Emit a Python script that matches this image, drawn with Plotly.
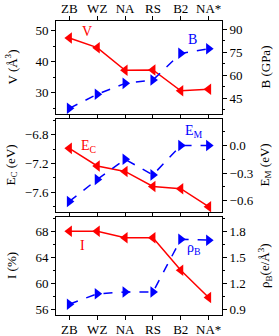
import plotly.graph_objects as go

phases = ["ZB", "WZ", "NA", "RS", "B2", "NA*"]
V = [47.6, 44.5, 37.2, 37.3, 30.6, 31.1]
B = [38.5, 47.6, 54.7, 56.9, 74.2, 77.2]
EC = [-6.99, -7.235, -7.31, -7.52, -7.55, -7.80]
EM = [-0.61, -0.37, -0.15, -0.32, 0.0, 0.0]
I = [68.0, 68.0, 67.0, 67.0, 62.0, 57.8]
RHO = [0.96, 1.08, 1.10, 1.10, 1.71, 1.70]

RED = "#ff0000"
BLUE = "#0000ff"
FONT = "Liberation Serif"

fig = go.Figure()

def red(x, y, xa, ya):
    fig.add_trace(go.Scatter(x=x, y=y, xaxis=xa, yaxis=ya, mode="lines+markers",
                             line=dict(color=RED, width=1.5),
                             marker=dict(symbol="triangle-left", size=10, color=RED),
                             showlegend=False))

def blue(x, y, xa, ya):
    fig.add_trace(go.Scatter(x=x, y=y, xaxis=xa, yaxis=ya, mode="lines+markers",
                             line=dict(color=BLUE, width=1.5, dash="dash"),
                             marker=dict(symbol="triangle-right", size=10, color=BLUE),
                             showlegend=False))

idx = list(range(len(phases)))
red(idx, V, "x", "y")
blue(idx, B, "x", "y2")
red(idx, EC, "x2", "y3")
blue(idx, EM, "x2", "y4")
red(idx, I, "x3", "y5")
blue(idx, RHO, "x3", "y6")

W, H = 279, 336
L, R = 56, 57
top, bot = 21, 21
ph = H - top - bot
pw = W - L - R
def dom(y0, y1):
    return [(H - bot - y1) / ph, (H - bot - y0) / ph]

d1 = dom(21, 114)
d2 = dom(119, 212)
d3 = dom(217, 315)

tickfont = dict(family=FONT, size=13, color="black")
titlefont = dict(family=FONT, size=13, color="black")

def xax(anchor, side, labels):
    return dict(anchor=anchor, side=side, range=[-0.48, 5.48],
                tickmode="array", tickvals=idx, ticktext=phases,
                showticklabels=labels, ticks="outside", ticklen=4, tickwidth=1,
                tickcolor="black", showline=True, linecolor="black", linewidth=1,
                mirror="allticks", showgrid=False, zeroline=False, tickfont=tickfont,
                ticklabelstandoff=-2, automargin=False)

def yax(domain, rng, dtick, minor, side="left", overlay=None, anchor=None):
    d = dict(domain=domain, range=rng, dtick=dtick, tick0=0, side=side,
             ticks="outside", ticklen=4, tickwidth=1, tickcolor="black",
             minor=dict(ticks="outside", ticklen=2, dtick=minor, tick0=0, tickcolor="black"),
             showline=True, linecolor="black", linewidth=1, showgrid=False,
             zeroline=False, tickfont=tickfont, automargin=False)
    if overlay:
        d["overlaying"] = overlay
    if anchor:
        d["anchor"] = anchor
    return d

fig.update_layout(
    width=W, height=H,
    margin=dict(l=L, r=R, t=top, b=bot, autoexpand=False),
    paper_bgcolor="white", plot_bgcolor="white",
    font=dict(family=FONT, color="black"),
    xaxis=xax("y", "top", True),
    xaxis2=xax("y3", "bottom", False),
    xaxis3=xax("y5", "bottom", True),
    yaxis=yax(d1, [23.1, 53.1], 10, 5, anchor="x"),
    yaxis2=yax(d1, [34.8, 95.2], 15, 7.5, side="right", overlay="y", anchor="x"),
    yaxis3=yax(d2, [-7.874, -6.582], 0.4, 0.2, anchor="x2"),
    yaxis4=yax(d2, [-0.725, 0.29], 0.3, 0.15, side="right", overlay="y3", anchor="x2"),
    yaxis5=yax(d3, [55.1, 70.2], 4, 2, anchor="x3"),
    yaxis6=yax(d3, [0.835, 1.968], 0.3, 0.15, side="right", overlay="y5", anchor="x3"),
)
fig.layout.yaxis3.tickformat = ".1f"
fig.layout.yaxis4.tickformat = ".1f"
fig.layout.yaxis6.tickformat = ".1f"

annfont_r = dict(family=FONT, size=14, color=RED)
annfont_b = dict(family=FONT, size=14, color=BLUE)
anns = [
    dict(text="V", x=0.63, y=49.6, xref="x", yref="y", font=annfont_r),
    dict(text="B", x=4.43, y=83.5, xref="x", yref="y2", font=annfont_b),
    dict(text="E<sub>C</sub>", x=0.67, y=-6.97, xref="x2", yref="y3", font=annfont_r),
    dict(text="E<sub>M</sub>", x=4.47, y=0.158, xref="x2", yref="y4", font=annfont_b),
    dict(text="I", x=0.455, y=65.8, xref="x3", yref="y5", font=annfont_r),
    dict(text="ρ<sub>B</sub>", x=4.47, y=1.60, xref="x3", yref="y6", font=annfont_b),
]
for a in anns:
    a["showarrow"] = False
    fig.add_annotation(**a)

# axis titles
xl = (11 - L) / pw
xr = (265 - L) / pw
titles = [
    ("V (Å<sup>3</sup>)", xl, d1), ("B (GPa)", xr, d1),
    ("E<sub>C</sub> (eV)", xl, d2), ("E<sub>M</sub> (eV)", xr, d2),
    ("I (%)", xl, d3), ("ρ<sub>B</sub>(e/Å<sup>3</sup>)", xr, d3),
]
for t, x, d in titles:
    fig.add_annotation(text=t, x=x, y=(d[0] + d[1]) / 2, xref="paper", yref="paper",
                       textangle=-90, showarrow=False, font=titlefont,
                       xanchor="center", yanchor="middle")

fig.write_html("out.html", config={"displayModeBar": False},
               post_script="document.body.style.margin='0';")
